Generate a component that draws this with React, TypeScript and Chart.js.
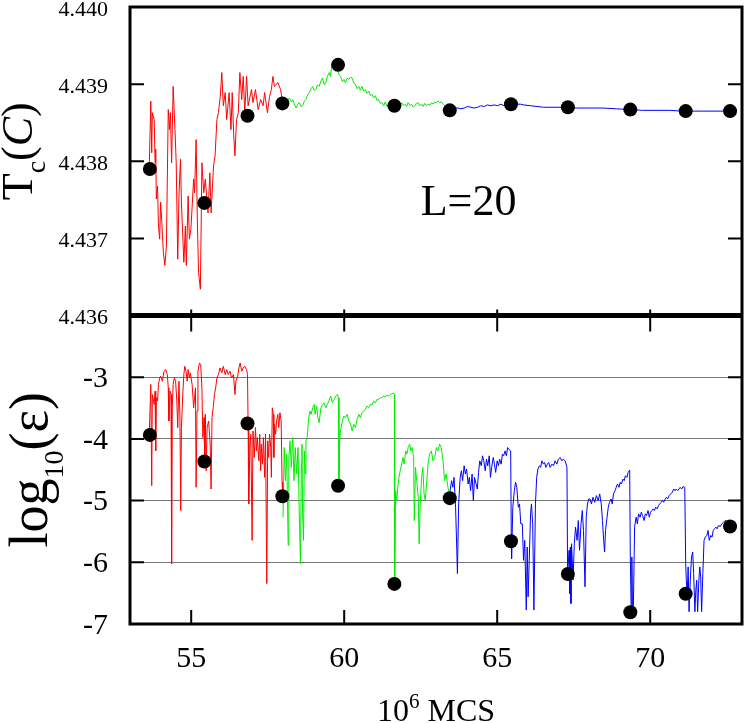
import { useEffect, useRef } from 'react';
import { Chart, registerables } from 'chart.js';

Chart.register(...registerables);

const SERIF = '"Liberation Serif", "Times New Roman", serif';

// ---- axis ticks ----
const xTicks = [55, 60, 65, 70];
const topTicks = [4.436, 4.437, 4.438, 4.439, 4.44];
const bottomTicks = [-7, -6, -5, -4, -3];
const bottomGrid = [-6, -5, -4, -3];

// ---- top panel: Tc(C) ----
const topRed: [number, number][] = [
  [53.63, 4.43794], [53.68, 4.43878], [53.71, 4.43811], [53.73, 4.43863], [53.79, 4.43854],
  [53.82, 4.43798], [53.84, 4.43816], [53.86, 4.43751], [53.9, 4.43768], [53.93, 4.43716],
  [53.97, 4.43699], [54.0, 4.43747], [54.04, 4.43721], [54.09, 4.43682], [54.14, 4.43665],
  [54.19, 4.4369], [54.25, 4.43867], [54.29, 4.43841], [54.32, 4.43863], [54.36, 4.43798],
  [54.41, 4.43897], [54.47, 4.43841], [54.51, 4.43798], [54.56, 4.43673], [54.6, 4.43755],
  [54.65, 4.43803], [54.68, 4.43747], [54.76, 4.43669], [54.81, 4.43716], [54.84, 4.43665],
  [54.9, 4.43755], [54.94, 4.43699], [54.99, 4.43712], [55.08, 4.43777], [55.11, 4.43759],
  [55.16, 4.43828], [55.2, 4.43725], [55.24, 4.43656], [55.3, 4.43634], [55.35, 4.43798],
  [55.41, 4.43759], [55.46, 4.43777], [55.55, 4.43733], [55.61, 4.43785], [55.65, 4.43733],
  [55.73, 4.43794], [55.78, 4.43807], [55.84, 4.43854], [55.89, 4.43863], [55.95, 4.43884],
  [56.0, 4.43915], [56.05, 4.43872], [56.11, 4.43889], [56.16, 4.43854], [56.24, 4.43889],
  [56.3, 4.43841], [56.34, 4.43889], [56.39, 4.43833], [56.43, 4.43807], [56.48, 4.43854],
  [56.54, 4.43863], [56.59, 4.43915], [56.65, 4.4388], [56.7, 4.4391], [56.75, 4.43863],
  [56.81, 4.4391], [56.86, 4.43872], [56.97, 4.43893], [57.02, 4.43876], [57.1, 4.43893],
  [57.19, 4.43867], [57.27, 4.4388], [57.35, 4.43872], [57.4, 4.43889], [57.49, 4.43863],
  [57.56, 4.43884], [57.62, 4.43893], [57.67, 4.4391], [57.72, 4.43897], [57.83, 4.43902],
  [57.92, 4.43893], [57.99, 4.43876],
];

const topGreen: [number, number][] = [
  [57.99, 4.4388], [58.05, 4.43874], [58.1, 4.43876], [58.16, 4.43879], [58.21, 4.43882],
  [58.27, 4.43877], [58.32, 4.4388], [58.38, 4.43873], [58.43, 4.43869], [58.48, 4.43874],
  [58.53, 4.43876], [58.59, 4.43871], [58.64, 4.43872], [58.7, 4.43878], [58.75, 4.4388],
  [58.8, 4.43886], [58.86, 4.43889], [58.92, 4.43894], [58.97, 4.43897], [59.02, 4.43892],
  [59.07, 4.43893], [59.13, 4.43899], [59.18, 4.43897], [59.24, 4.43904], [59.29, 4.43908],
  [59.35, 4.43899], [59.4, 4.43902], [59.45, 4.4391], [59.51, 4.43915], [59.55, 4.4391],
  [59.59, 4.43923], [59.67, 4.43925], [59.72, 4.43917], [59.78, 4.43919], [59.83, 4.43912],
  [59.88, 4.4391], [59.94, 4.43903], [59.99, 4.43906], [60.04, 4.43902], [60.1, 4.43908],
  [60.15, 4.43906], [60.21, 4.43909], [60.26, 4.43908], [60.32, 4.43901], [60.37, 4.439],
  [60.42, 4.43894], [60.48, 4.43897], [60.53, 4.43892], [60.58, 4.43897], [60.64, 4.43891],
  [60.69, 4.43893], [60.75, 4.43888], [60.8, 4.43891], [60.86, 4.43885], [60.91, 4.43887],
  [60.96, 4.43882], [61.02, 4.43885], [61.07, 4.43879], [61.12, 4.4388], [61.18, 4.43875],
  [61.23, 4.43876], [61.29, 4.43872], [61.34, 4.43877], [61.4, 4.43871], [61.45, 4.43874],
  [61.5, 4.4387], [61.56, 4.43872], [61.66, 4.43871], [61.77, 4.43874], [61.83, 4.43871],
  [61.88, 4.43876], [61.94, 4.43872], [61.99, 4.43874], [62.04, 4.43871], [62.09, 4.43876],
  [62.15, 4.43872], [62.2, 4.43874], [62.26, 4.4387], [62.31, 4.43872], [62.36, 4.43875],
  [62.42, 4.43876], [62.47, 4.43872], [62.53, 4.43874], [62.58, 4.43871], [62.63, 4.43875],
  [62.69, 4.43872], [62.74, 4.43874], [62.8, 4.43873], [62.85, 4.43876], [62.9, 4.43874],
  [62.96, 4.43877], [63.01, 4.43876], [63.07, 4.43878], [63.12, 4.43876], [63.17, 4.43877],
  [63.23, 4.43874], [63.28, 4.43872], [63.34, 4.43869], [63.39, 4.43867], [63.44, 4.43866],
];

const topBlue: [number, number][] = [
  [63.44, 4.43867], [63.52, 4.43866], [63.6, 4.43869], [63.71, 4.43869], [63.8, 4.43868],
  [63.93, 4.43869], [64.02, 4.43871], [64.14, 4.4387], [64.25, 4.43869], [64.36, 4.4387],
  [64.46, 4.43872], [64.58, 4.43871], [64.68, 4.43873], [64.79, 4.43872], [64.9, 4.43873],
  [65.01, 4.43872], [65.12, 4.43874], [65.22, 4.43872], [65.33, 4.43874], [65.44, 4.43874],
  [65.55, 4.43875], [65.65, 4.43874], [65.76, 4.43874], [65.87, 4.43873], [66.09, 4.43872],
  [66.3, 4.43871], [66.52, 4.4387], [66.73, 4.4387], [66.95, 4.4387], [67.16, 4.4387],
  [67.6, 4.43869], [68.03, 4.43869], [68.46, 4.43869], [68.89, 4.43868], [69.32, 4.43867],
  [69.75, 4.43866], [70.62, 4.43866], [71.05, 4.43865], [71.7, 4.43865], [72.56, 4.43865],
];

const topDots: [number, number][] = [
  [53.65, 4.4379], [55.43, 4.43746], [56.84, 4.43859], [57.98, 4.43875], [59.8, 4.43925],
  [61.64, 4.43872], [63.45, 4.43866], [65.45, 4.43874], [67.31, 4.4387], [69.35, 4.43867],
  [71.16, 4.43865], [72.61, 4.43865],
];

// ---- bottom panel: log10(eps) ----
const bottomRed: [number, number][] = [
  [53.63, -3.925], [53.68, -3.118], [53.71, -4.758], [53.73, -3.28], [53.79, -3.441],
  [53.82, -3.226], [53.84, -4.194], [53.86, -3.333], [53.9, -3.387], [53.93, -3.118],
  [53.97, -3.011], [54.0, -2.984], [54.06, -3.065], [54.11, -2.903], [54.17, -2.876],
  [54.22, -2.957], [54.25, -3.172], [54.27, -3.71], [54.31, -3.226], [54.34, -3.28],
  [54.36, -6.022], [54.38, -3.495], [54.41, -3.118], [54.45, -3.011], [54.49, -3.065],
  [54.53, -3.387], [54.56, -3.817], [54.6, -3.065], [54.63, -3.602], [54.66, -5.161],
  [54.68, -3.817], [54.73, -3.226], [54.76, -2.957], [54.79, -2.823], [54.83, -2.903],
  [54.87, -3.065], [54.9, -2.876], [54.94, -3.011], [54.97, -2.93], [55.03, -3.118],
  [55.08, -3.495], [55.14, -3.172], [55.16, -4.785], [55.19, -3.548], [55.22, -2.903],
  [55.27, -2.769], [55.31, -2.796], [55.35, -3.172], [55.38, -3.979], [55.42, -3.656],
  [55.44, -4.355], [55.46, -3.602], [55.49, -4.516], [55.52, -3.817], [55.57, -3.71],
  [55.62, -4.086], [55.65, -4.812], [55.68, -3.656], [55.72, -3.495], [55.76, -3.28],
  [55.8, -3.172], [55.84, -3.011], [55.89, -2.957], [55.94, -2.85], [56.0, -2.93],
  [56.05, -2.823], [56.11, -2.957], [56.16, -2.876], [56.21, -2.957], [56.27, -2.903],
  [56.32, -3.011], [56.38, -2.957], [56.43, -3.28], [56.46, -3.065], [56.52, -2.984],
  [56.56, -2.85], [56.6, -2.769], [56.65, -2.903], [56.7, -2.85], [56.75, -2.823],
  [56.81, -2.876], [56.84, -2.957], [56.86, -3.79], [56.88, -5.054], [56.92, -4.086],
  [56.95, -3.925], [56.99, -5.645], [57.02, -3.871], [57.06, -4.301], [57.1, -3.817],
  [57.13, -4.194], [57.16, -3.979], [57.21, -4.355], [57.24, -3.925], [57.27, -4.516],
  [57.29, -4.086], [57.33, -4.409], [57.36, -3.979], [57.4, -4.624], [57.43, -3.925],
  [57.47, -6.344], [57.5, -4.032], [57.53, -4.301], [57.56, -3.925], [57.6, -4.14],
  [57.62, -4.624], [57.65, -3.495], [57.68, -3.602], [57.7, -4.301], [57.72, -3.763],
  [57.76, -3.925], [57.79, -3.71], [57.83, -3.602], [57.86, -3.817], [57.9, -3.575],
  [57.94, -3.71], [57.97, -4.704], [57.99, -4.893],
];

const bottomGreen: [number, number][] = [
  [58.0, -5.269], [58.04, -4.14], [58.08, -4.677], [58.12, -4.247], [58.17, -5.726],
  [58.19, -4.301], [58.23, -4.032], [58.27, -4.462], [58.32, -3.978], [58.36, -4.677],
  [58.4, -4.14], [58.45, -4.57], [58.49, -4.14], [58.53, -5.161], [58.57, -6.022],
  [58.6, -4.409], [58.62, -4.086], [58.64, -5.215], [58.67, -5.645], [58.7, -4.194],
  [58.73, -4.57], [58.75, -4.032], [58.79, -3.978], [58.84, -3.656], [58.88, -3.548],
  [58.92, -3.602], [58.97, -3.495], [59.02, -3.441], [59.05, -3.602], [59.1, -3.468],
  [59.14, -3.656], [59.18, -3.737], [59.24, -3.495], [59.29, -3.441], [59.34, -3.414],
  [59.4, -3.495], [59.45, -3.441], [59.5, -3.387], [59.56, -3.306], [59.61, -3.414],
  [59.67, -3.36], [59.72, -3.306], [59.78, -3.28], [59.81, -3.333], [59.83, -4.785],
  [59.85, -4.032], [59.88, -3.871], [59.94, -3.71], [59.99, -3.629], [60.04, -3.656],
  [60.1, -3.602], [60.15, -3.71], [60.21, -3.763], [60.26, -3.871], [60.31, -3.763],
  [60.37, -3.817], [60.42, -3.683], [60.48, -3.602], [60.53, -3.656], [60.58, -3.575],
  [60.64, -3.548], [60.69, -3.521], [60.75, -3.468], [60.8, -3.495], [60.85, -3.441],
  [60.91, -3.452], [60.96, -3.387], [61.02, -3.414], [61.07, -3.36], [61.12, -3.36],
  [61.18, -3.333], [61.23, -3.333], [61.28, -3.306], [61.34, -3.323], [61.39, -3.29],
  [61.45, -3.306], [61.5, -3.28], [61.55, -3.269], [61.61, -3.258], [61.64, -3.28],
  [61.65, -6.237], [61.68, -4.839], [61.72, -5.0], [61.75, -4.785], [61.79, -4.624],
  [61.83, -4.516], [61.88, -4.409], [61.92, -4.301], [61.96, -4.409], [62.01, -4.194],
  [62.05, -4.247], [62.09, -4.14], [62.14, -4.086], [62.18, -4.194], [62.22, -4.14],
  [62.27, -4.301], [62.29, -5.323], [62.33, -4.462], [62.37, -4.677], [62.42, -4.946],
  [62.45, -5.699], [62.48, -5.108], [62.53, -4.624], [62.57, -4.462], [62.61, -4.892],
  [62.65, -5.0], [62.7, -4.677], [62.74, -4.409], [62.79, -4.247], [62.85, -4.194],
  [62.9, -4.355], [62.96, -4.301], [63.01, -4.14], [63.06, -4.194], [63.12, -4.086],
  [63.17, -4.14], [63.23, -4.355], [63.28, -4.677], [63.33, -4.57], [63.39, -4.785],
  [63.44, -4.892],
];

const bottomBlue: [number, number][] = [
  [63.44, -4.957], [63.46, -4.839], [63.51, -4.677], [63.55, -4.785], [63.59, -4.624],
  [63.64, -5.108], [63.68, -5.806], [63.7, -6.183], [63.74, -5.054], [63.79, -4.624],
  [63.83, -4.516], [63.87, -4.677], [63.92, -4.436], [63.96, -4.57], [64.0, -4.489],
  [64.05, -4.731], [64.09, -4.624], [64.13, -4.839], [64.18, -4.57], [64.22, -5.0],
  [64.26, -4.624], [64.31, -4.731], [64.35, -4.812], [64.39, -4.543], [64.43, -4.355],
  [64.48, -4.436], [64.52, -4.274], [64.56, -4.355], [64.61, -4.516], [64.65, -4.328],
  [64.69, -4.436], [64.74, -4.274], [64.78, -4.624], [64.82, -4.462], [64.87, -4.301],
  [64.91, -4.409], [64.95, -4.543], [65.0, -4.355], [65.04, -4.436], [65.08, -4.328],
  [65.13, -4.409], [65.17, -4.247], [65.21, -4.274], [65.26, -4.194], [65.3, -4.274],
  [65.34, -4.14], [65.38, -4.167], [65.44, -4.194], [65.46, -5.538], [65.47, -5.941],
  [65.51, -5.108], [65.56, -4.839], [65.6, -4.704], [65.64, -4.785], [65.69, -5.108],
  [65.73, -5.054], [65.77, -5.376], [65.82, -5.376], [65.86, -5.968], [65.9, -5.645],
  [65.95, -6.774], [65.98, -5.753], [66.01, -6.559], [66.05, -5.914], [66.09, -5.215],
  [66.12, -5.054], [66.16, -5.376], [66.2, -6.774], [66.25, -5.054], [66.29, -4.624],
  [66.33, -4.489], [66.38, -4.436], [66.42, -4.462], [66.46, -4.355], [66.51, -4.409],
  [66.55, -4.382], [66.59, -4.462], [66.64, -4.409], [66.68, -4.382], [66.73, -4.462],
  [66.79, -4.409], [66.84, -4.436], [66.89, -4.355], [66.95, -4.409], [67.0, -4.328],
  [67.06, -4.301], [67.11, -4.355], [67.16, -4.328], [67.22, -4.355], [67.28, -4.462],
  [67.3, -6.183], [67.35, -5.806], [67.37, -6.505], [67.39, -5.753], [67.41, -6.667],
  [67.43, -5.699], [67.48, -6.29], [67.52, -5.699], [67.56, -5.43], [67.61, -5.645],
  [67.65, -5.323], [67.69, -5.806], [67.74, -5.376], [67.78, -5.161], [67.82, -5.484],
  [67.87, -6.398], [67.91, -5.269], [67.95, -5.054], [67.99, -4.973], [68.03, -4.973],
  [68.08, -5.054], [68.13, -4.946], [68.19, -5.027], [68.24, -4.919], [68.3, -5.0],
  [68.35, -4.892], [68.4, -5.054], [68.44, -5.323], [68.48, -5.645], [68.51, -5.833],
  [68.54, -5.484], [68.59, -5.269], [68.63, -5.108], [68.67, -5.027], [68.72, -4.973],
  [68.76, -5.054], [68.8, -4.892], [68.85, -4.839], [68.89, -4.785], [68.93, -4.731],
  [68.98, -4.785], [69.02, -4.704], [69.06, -4.731], [69.11, -4.651], [69.15, -4.677],
  [69.19, -4.597], [69.24, -4.624], [69.28, -4.543], [69.33, -4.505], [69.35, -5.914],
  [69.38, -6.828], [69.4, -5.914], [69.42, -6.774], [69.45, -6.72], [69.49, -5.43],
  [69.54, -5.269], [69.58, -5.376], [69.62, -5.215], [69.67, -5.269], [69.71, -5.188],
  [69.75, -5.242], [69.8, -5.323], [69.84, -5.215], [69.88, -5.242], [69.93, -5.161],
  [69.97, -5.269], [70.01, -5.188], [70.06, -5.161], [70.1, -5.134], [70.14, -5.161],
  [70.18, -5.108], [70.23, -5.134], [70.27, -5.081], [70.31, -5.054], [70.36, -5.027],
  [70.4, -5.0], [70.44, -5.027], [70.49, -4.973], [70.53, -4.946], [70.57, -4.973],
  [70.62, -4.919], [70.67, -4.892], [70.72, -4.866], [70.77, -4.812], [70.81, -4.839],
  [70.85, -4.812], [70.9, -4.839], [70.94, -4.812], [70.98, -4.785], [71.03, -4.812],
  [71.07, -4.774], [71.13, -4.785], [71.16, -6.022], [71.18, -6.29], [71.21, -6.505],
  [71.24, -6.075], [71.27, -6.801], [71.31, -6.29], [71.35, -5.914], [71.39, -5.833],
  [71.42, -6.183], [71.46, -6.801], [71.49, -6.452], [71.52, -6.29], [71.55, -6.801],
  [71.59, -6.29], [71.62, -6.075], [71.65, -6.237], [71.68, -6.801], [71.72, -6.183],
  [71.76, -5.645], [71.8, -5.591], [71.85, -5.565], [71.89, -5.484], [71.93, -5.645],
  [71.98, -5.565], [72.02, -5.591], [72.06, -5.484], [72.1, -5.457], [72.15, -5.43],
  [72.19, -5.457], [72.23, -5.403], [72.29, -5.419], [72.34, -5.376], [72.4, -5.349],
  [72.45, -5.323], [72.56, -5.349],
];

const bottomDots: [number, number][] = [
  [53.65, -3.935], [55.43, -4.366], [56.84, -3.75], [57.98, -4.93], [59.8, -4.76],
  [61.64, -6.35], [63.45, -4.96], [65.45, -5.66], [67.31, -6.19], [69.35, -6.81],
  [71.16, -6.51], [72.61, -5.42],
];

const panelLabel = { text: 'L=20', x: 62.5, y: 4.4373 };

const RED = '#ff0000';
const GREEN = '#00ee00';
const BLUE = '#0000ff';

type Part = { t: string; font: string; dy: number };

function drawParts(ctx: CanvasRenderingContext2D, parts: Part[]) {
  let total = 0;
  for (const p of parts) {
    ctx.font = p.font;
    total += ctx.measureText(p.t).width;
  }
  let x = -total / 2;
  for (const p of parts) {
    ctx.font = p.font;
    ctx.fillText(p.t, x, p.dy);
    x += ctx.measureText(p.t).width;
  }
}

export default function App() {
  const ref = useRef<HTMLCanvasElement>(null);

  useEffect(() => {
    const canvas = ref.current;
    if (!canvas) return;
    const pts = (a: [number, number][]) => a.map(([x, y]) => ({ x, y }));
    const line = (d: [number, number][], color: string, axis: string) => ({
      data: pts(d),
      yAxisID: axis,
      showLine: true,
      borderColor: color,
      backgroundColor: color,
      borderWidth: 1,
      pointRadius: 0,
      pointHoverRadius: 0,
      order: 2,
    });
    const dots = (d: [number, number][], axis: string) => ({
      data: pts(d),
      yAxisID: axis,
      showLine: false,
      pointRadius: 7,
      pointHoverRadius: 7,
      backgroundColor: '#000',
      borderColor: '#000',
      borderWidth: 0,
      order: 1,
    });

    const framePlugin = {
      id: 'frame',
      afterDraw(chart: any) {
        const ctx: CanvasRenderingContext2D = chart.ctx;
        const xs = chart.scales.x;
        const yt = chart.scales.yTop;
        const yb = chart.scales.yBottom;
        const L = chart.chartArea.left;
        const R = chart.chartArea.right;
        const TL = 14;
        ctx.save();
        ctx.strokeStyle = '#000';
        ctx.lineCap = 'butt';
        // inward ticks
        ctx.lineWidth = 2;
        ctx.beginPath();
        for (const v of topTicks.slice(1, -1)) {
          const y = yt.getPixelForValue(v);
          ctx.moveTo(L, y); ctx.lineTo(L + TL, y);
          ctx.moveTo(R, y); ctx.lineTo(R - TL, y);
        }
        for (const v of bottomGrid) {
          const y = yb.getPixelForValue(v);
          ctx.moveTo(L, y); ctx.lineTo(L + TL, y);
          ctx.moveTo(R, y); ctx.lineTo(R - TL, y);
        }
        for (const v of xTicks) {
          const x = xs.getPixelForValue(v);
          ctx.moveTo(x, yb.bottom); ctx.lineTo(x, yb.bottom - TL);
          ctx.moveTo(x, yb.top - 6); ctx.lineTo(x, yb.top + TL + 2);
        }
        ctx.stroke();
        // frames
        ctx.lineWidth = 3;
        ctx.strokeRect(L, yt.top, R - L, yb.bottom - yt.top);
        ctx.lineWidth = 5;
        ctx.beginPath();
        ctx.moveTo(L, yb.top); ctx.lineTo(R, yb.top);
        ctx.stroke();

        ctx.fillStyle = '#000';
        ctx.textAlign = 'left';
        ctx.textBaseline = 'alphabetic';
        // panel label
        ctx.font = `44px ${SERIF}`;
        ctx.fillText(panelLabel.text, xs.getPixelForValue(panelLabel.x), yt.getPixelForValue(panelLabel.y));

        // y title top
        ctx.save();
        ctx.translate(32, (yt.top + yt.bottom) / 2 - 10);
        ctx.rotate(-Math.PI / 2);
        drawParts(ctx, [
          { t: 'T', font: `44px ${SERIF}`, dy: 0 },
          { t: 'c', font: `28px ${SERIF}`, dy: 13 },
          { t: '(', font: `44px ${SERIF}`, dy: 0 },
          { t: 'C', font: `italic 44px ${SERIF}`, dy: 0 },
          { t: ')', font: `44px ${SERIF}`, dy: 0 },
        ]);
        ctx.restore();

        // y title bottom
        ctx.save();
        ctx.translate(47, (yb.top + yb.bottom) / 2);
        ctx.rotate(-Math.PI / 2);
        drawParts(ctx, [
          { t: 'log', font: `54px ${SERIF}`, dy: 0 },
          { t: '10', font: `28px ${SERIF}`, dy: 16 },
          { t: '(ε)', font: `54px ${SERIF}`, dy: 0 },
        ]);
        ctx.restore();

        // x title
        ctx.save();
        ctx.translate((L + R) / 2, 721);
        drawParts(ctx, [
          { t: '10', font: `32px ${SERIF}`, dy: 0 },
          { t: '6', font: `21px ${SERIF}`, dy: -13 },
          { t: ' MCS', font: `32px ${SERIF}`, dy: 0 },
        ]);
        ctx.restore();
        ctx.restore();
      },
    };

    const setTicks = (vals: number[]) => (s: any) => {
      s.ticks = vals.map((v) => ({ value: v }));
    };
    const fitY = (s: any) => {
      s.width = 130;
      s.paddingTop = 0;
      s.paddingBottom = 0;
    };

    const chart = new Chart(canvas, {
      type: 'scatter',
      data: {
        datasets: [
          dots(topDots, 'yTop'),
          dots(bottomDots, 'yBottom'),
          line(topRed, RED, 'yTop'),
          line(topGreen, GREEN, 'yTop'),
          line(topBlue, BLUE, 'yTop'),
          line(bottomRed, RED, 'yBottom'),
          line(bottomGreen, GREEN, 'yBottom'),
          line(bottomBlue, BLUE, 'yBottom'),
        ] as any,
      },
      options: {
        animation: false,
        responsive: false,
        events: [],
        layout: { padding: { left: 0, right: 2, top: 4, bottom: 0 } },
        plugins: { legend: { display: false }, tooltip: { enabled: false } },
        scales: {
          x: {
            type: 'linear',
            position: 'bottom',
            min: 53,
            max: 73,
            afterBuildTicks: setTicks(xTicks),
            afterFit: (s: any) => {
              s.height = 99;
              s.paddingLeft = 0;
              s.paddingRight = 0;
            },
            ticks: {
              font: { family: SERIF, size: 30 },
              color: '#000',
              padding: 17,
              maxRotation: 0,
              autoSkip: false,
              callback: (v: any) => String(v),
            },
            grid: { display: false, drawTicks: false },
            border: { display: false },
          },
          yTop: {
            type: 'linear',
            position: 'left',
            stack: 'panels',
            stackWeight: 1,
            weight: 1,
            min: 4.436,
            max: 4.44,
            afterBuildTicks: setTicks(topTicks),
            afterFit: fitY,
            ticks: {
              font: { family: SERIF, size: 22 },
              color: '#000',
              padding: 22,
              labelOffset: 3,
              autoSkip: false,
              callback: (v: any) => Number(v).toFixed(3),
            },
            grid: { display: false, drawTicks: false },
            border: { display: false },
          },
          yBottom: {
            type: 'linear',
            position: 'left',
            stack: 'panels',
            stackWeight: 1,
            weight: 0,
            min: -7,
            max: -2,
            afterBuildTicks: setTicks(bottomTicks),
            afterFit: fitY,
            ticks: {
              font: { family: SERIF, size: 30 },
              color: '#000',
              padding: 22,
              labelOffset: 2,
              autoSkip: false,
              callback: (v: any) => String(v),
            },
            grid: {
              display: true,
              drawTicks: false,
              lineWidth: 1,
              color: (c: any) =>
                c.tick && bottomGrid.includes(c.tick.value) ? '#777777' : 'rgba(0,0,0,0)',
            },
            border: { display: false },
          },
        },
      } as any,
      plugins: [framePlugin],
    });
    return () => chart.destroy();
  }, []);

  return (
    <div style={{ position: 'absolute', left: 0, top: 0, width: 749, height: 723, background: '#fff' }}>
      <canvas ref={ref} width={749} height={723} style={{ display: 'block' }} />
    </div>
  );
}
